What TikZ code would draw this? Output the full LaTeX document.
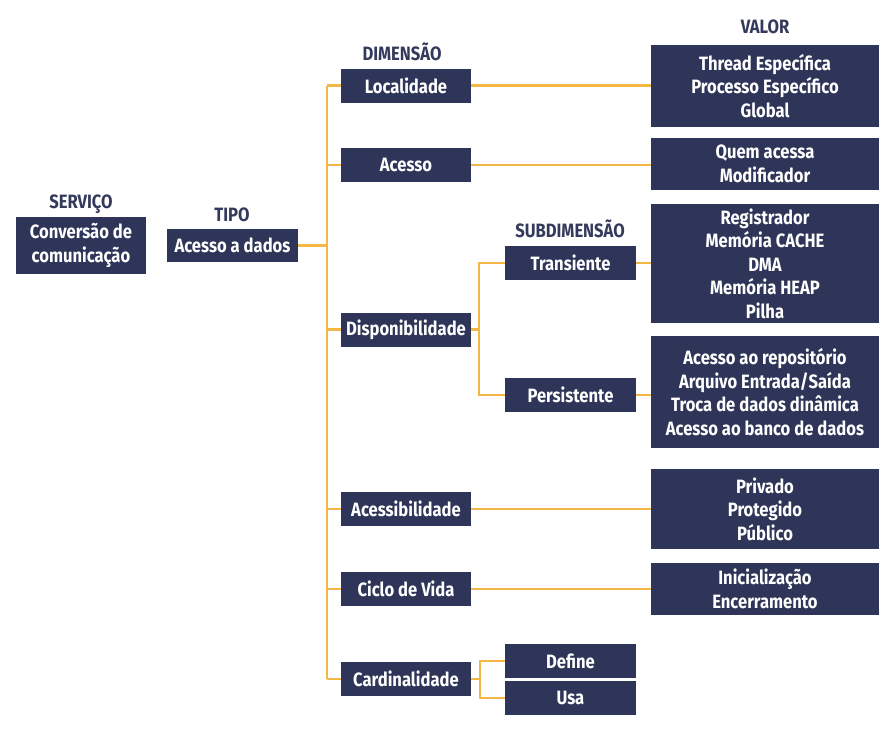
\documentclass[tikz,border=0pt]{standalone}
\usepackage{fontspec}
\setmainfont{Fira Sans}[FakeStretch=0.86]
\definecolor{marinho}{HTML}{2E3558}
\definecolor{titcor}{HTML}{343A5B}
\definecolor{ouro}{HTML}{F2B843}

\begin{document}
\begin{tikzpicture}[x=1pt,y=-1pt,
  caixa/.style={fill=marinho, text=white, font=\bfseries\fontsize{19.3}{23.5}\selectfont,
    align=center, inner sep=0pt, minimum width=130pt, minimum height=34pt},
  valor/.style={caixa, minimum width=228pt},
  titulo/.style={text=titcor, font=\bfseries\fontsize{19.3}{21}\selectfont, inner sep=0pt},
  liga/.style={ouro, line width=2.5pt}]
\useasboundingbox (0,0) rectangle (889,729);

% titulos das colunas
\node[titulo] (tserv) at (81,204) {SERVIÇO};
\node[titulo] (ttipo) at (232,215) {TIPO};
\node[titulo] (tdim) at (402,52) {DIMENSÃO};
\node[titulo] (tsub) at (570,229) {SUBDIMENSÃO};
\node[titulo] (tval) at (765,27) {VALOR};

% servico e tipo
\node[caixa, minimum height=57pt] (serv) at (81,245.5) {Conversão de\\comunicação};
\node[caixa, minimum width=131pt, minimum height=33pt] (tipo) at (232.5,245.5) {Acesso a dados};

% dimensoes
\node[caixa] (loc) at (406,85.5) {Localidade};
\node[caixa] (aces) at (406,165) {Acesso};
\node[caixa] (disp) at (406,329.5) {Disponibilidade};
\node[caixa] (acbl) at (406,509) {Acessibilidade};
\node[caixa] (ciclo) at (406,589) {Ciclo de Vida};
\node[caixa] (card) at (406,679) {Cardinalidade};

% subdimensoes
\node[caixa, minimum width=131pt] (trans) at (570.5,263) {Transiente};
\node[caixa, minimum width=131pt] (pers) at (570.5,395) {Persistente};
\node[caixa, minimum width=131pt] (def) at (570.5,661) {Define};
\node[caixa, minimum width=131pt] (usa) at (570.5,698) {Usa};

% valores
\node[valor, minimum height=82pt] (vloc) at (765,86) {Thread Específica\\Processo Específico\\Global};
\node[valor, minimum height=52pt] (vaces) at (765,164) {Quem acessa\\Modificador};
\node[valor, minimum height=119pt] (vtrans) at (765,263.5) {Registrador\\Memória CACHE\\DMA\\Memória HEAP\\Pilha};
\node[valor, minimum height=112pt] (vpers) at (765,392) {Acesso ao repositório\\Arquivo Entrada/Saída\\Troca de dados dinâmica\\Acesso ao banco de dados};
\node[valor, minimum height=80pt] (vacbl) at (765,509) {Privado\\Protegido\\Público};
\node[valor, minimum height=52pt] (vciclo) at (765,589) {Inicialização\\Encerramento};

% ligacoes
\coordinate (tronco) at (327,245.5);
\draw[liga] (tipo.east) -- (tronco);
\draw[liga] (loc.west -| tronco) -- (card.west -| tronco);
\foreach \d in {loc,aces,disp,acbl,ciclo,card}
  \draw[liga] (\d.west -| tronco) -- (\d.west);

\coordinate (dsp) at (479,329.5);
\draw[liga] (disp.east) -- (dsp);
\draw[liga] (trans.west) -| (dsp) |- (pers.west);

\coordinate (crd) at (480,679);
\draw[liga] (card.east) -- (crd);
\draw[liga] (def.west) -| (crd) |- (usa.west);

\draw[liga] (loc.east) -- (vloc.west |- loc.east);
\draw[liga] (aces.east) -- (vaces.west |- aces.east);
\draw[liga] (trans.east) -- (vtrans.west |- trans.east);
\draw[liga] (pers.east) -- (vpers.west |- pers.east);
\draw[liga] (acbl.east) -- (vacbl.west);
\draw[liga] (ciclo.east) -- (vciclo.west);
\end{tikzpicture}
\end{document}
